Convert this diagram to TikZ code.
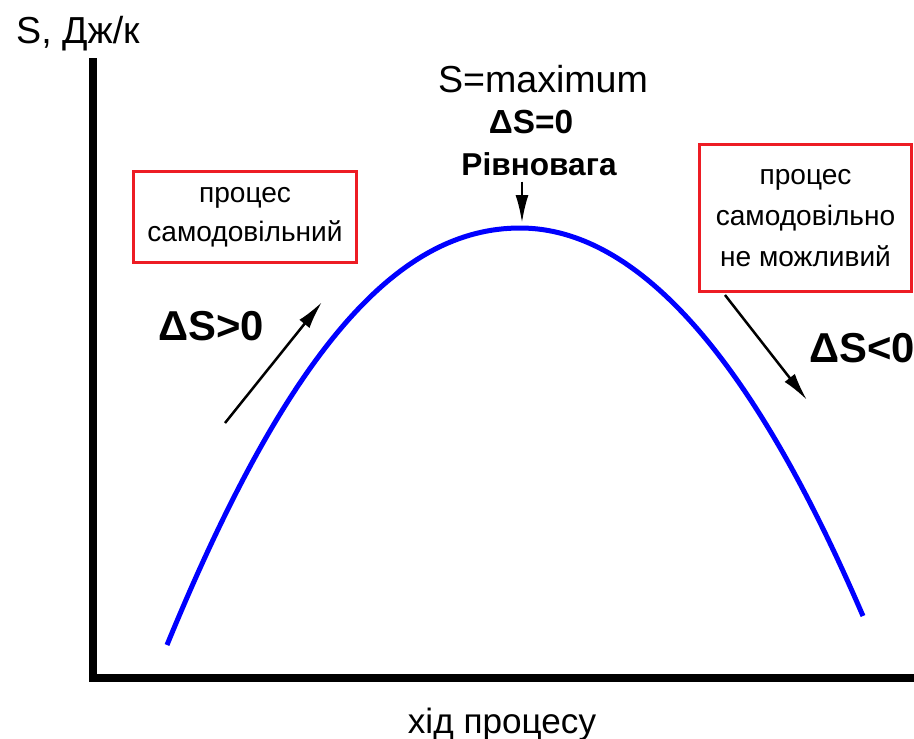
\documentclass[tikz,border=0pt]{standalone}
\usepackage{fontspec}
\setmainfont{Liberation Sans}
\usetikzlibrary{arrows.meta,positioning}
\definecolor{curveblue}{RGB}{0,0,255}
\definecolor{boxred}{RGB}{237,28,36}

\begin{document}
\begin{tikzpicture}[
x=0.02cm, y=-0.02cm,
axis/.style={line width=0.16cm},
curve/.style={draw=curveblue, line width=0.1cm},
note/.style={
    rectangle,
    draw=boxred,
    line width=0.06cm,
    align=center,
    inner sep=0pt,
    font=\fontsize{16}{22}\selectfont
},
lbl/.style={anchor=base, font=\fontsize{21.4}{24}\selectfont},
eqb/.style={anchor=base, font=\bfseries\fontsize{19}{22}\selectfont},
dlt/.style={anchor=base, font=\bfseries\fontsize{23.8}{26}\selectfont},
arr/.style={-{Latex[length=0.56cm,width=0.26cm]}, line width=0.05cm}
]
\useasboundingbox (0,0) rectangle (914,738);

\coordinate (ytop) at (93,58);
\coordinate (orig) at (93,678);
\coordinate (xend) at (914,678);
\draw[axis] (ytop) -- (orig) -- (xend);

\coordinate (cstart) at (167,645);
\coordinate (peak) at (520,228);
\coordinate (cend) at (863,616);
\draw[curve] (cstart) .. controls (290,345) and (400,228) .. (peak)
    .. controls (680,228) and (800,470) .. (cend);

\node[lbl, anchor=base west] (ylab) at (10,43) {S, Дж/к};
\node[lbl] (smax) at (543,92) {S=maximum};
\node[eqb] (dzero) at (531,133) {ΔS=0};
\node[eqb, font=\bfseries\fontsize{18}{22}\selectfont] (rivn) at (539,175) {Рівновага};
\coordinate (ptop) at (522,223);
\draw[arr] (rivn.south -| ptop) -- (ptop);

\node[note, minimum width=4.46cm, minimum height=1.82cm] (spont) at (245,217) {процес\\самодовільний};
\node[note, minimum width=4.24cm, minimum height=2.94cm, font=\fontsize{16}{23.5}\selectfont] (nspont) at (805.5,218) {процес\\самодовільно\\не можливий};

\node[dlt] (dpos) at (211,340) {ΔS>0};
\node[dlt] (dneg) at (862,362) {ΔS<0};
\coordinate (ups) at (225,423);
\coordinate (upe) at (322,302);
\draw[arr] (ups) -- (upe);
\coordinate (dns) at (725,295);
\coordinate (dne) at (807,400);
\draw[arr] (dns) -- (dne);

\node[lbl, font=\fontsize{20}{24}\selectfont] (xlab) at (502,733) {хід процесу};
\end{tikzpicture}
\end{document}
